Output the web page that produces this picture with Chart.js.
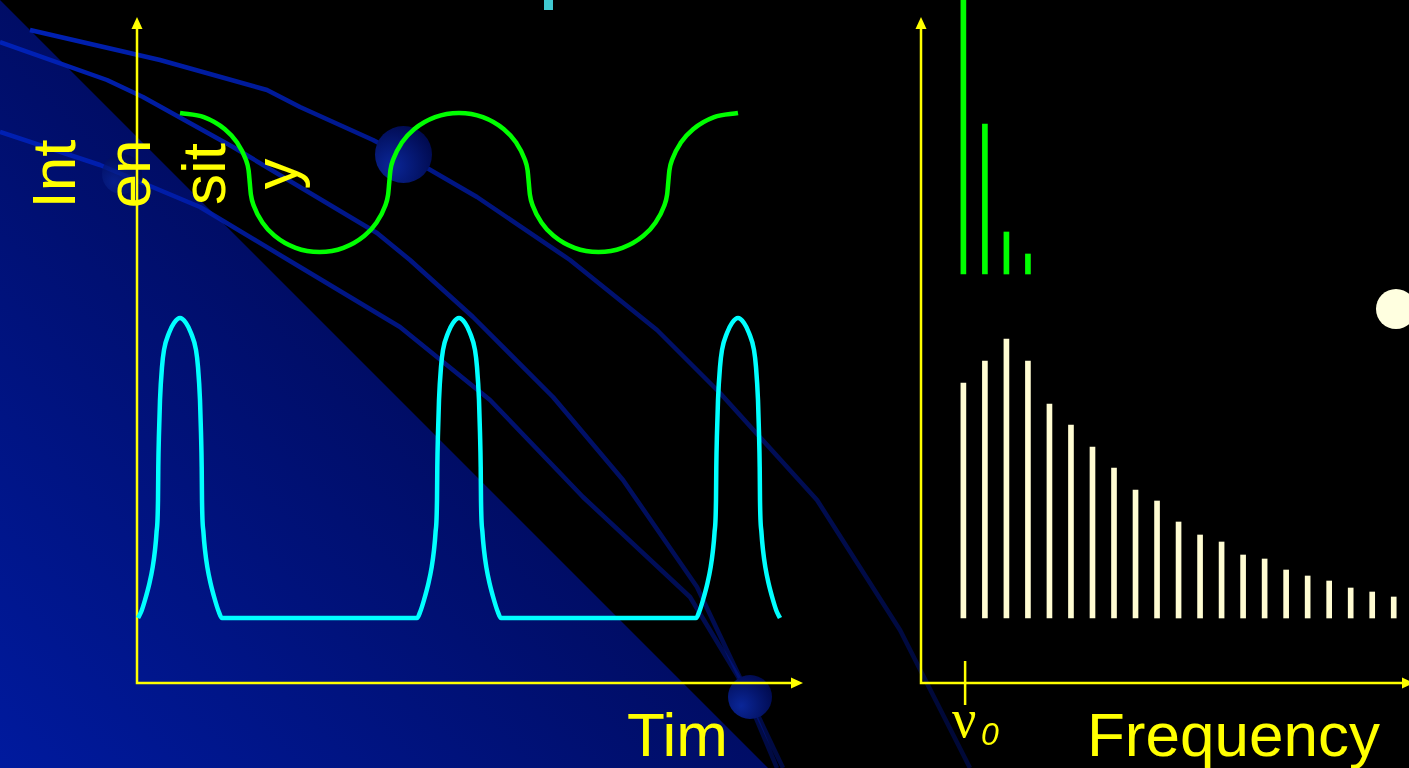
<!DOCTYPE html>
<html>
<head>
<meta charset="utf-8">
<script src="https://cdn.jsdelivr.net/npm/chart.js@4.4.1/dist/chart.umd.min.js"></script>
<style>
  html, body { margin: 0; padding: 0; background: #000; overflow: hidden; }
  #stage { position: relative; width: 1409px; height: 768px; overflow: hidden; background: #000; }
  #stage svg, #stage canvas { position: absolute; left: 0; top: 0; }
  .lbl { position: absolute; color: #ffff00; font-family: "Liberation Sans", Arial, sans-serif;
         font-size: 62px; line-height: 62px; white-space: nowrap; }
  .rot { transform: translate(-50%, -50%) rotate(-90deg); }
</style>
</head>
<body>
<div id="stage">
  <svg width="1409" height="768">
    <defs>
      <linearGradient id="tri" x1="0" y1="768" x2="384" y2="384" gradientUnits="userSpaceOnUse">
        <stop offset="0" stop-color="#001a9e"/>
        <stop offset="1" stop-color="#000d66"/>
      </linearGradient>
      <linearGradient id="fade" x1="0" y1="0" x2="900" y2="768" gradientUnits="userSpaceOnUse">
        <stop offset="0" stop-color="#0022b8" stop-opacity="1"/>
        <stop offset="0.5" stop-color="#001aa8" stop-opacity="0.7"/>
        <stop offset="1" stop-color="#0018a0" stop-opacity="0.35"/>
      </linearGradient>
      <radialGradient id="ball" cx="0.3" cy="0.7" r="0.8">
        <stop offset="0" stop-color="#0a2698"/>
        <stop offset="1" stop-color="#00094c"/>
      </radialGradient>
    </defs>
    <polygon points="0,0 768,768 0,768" fill="url(#tri)"/>
    <g fill="none" stroke="url(#fade)" stroke-width="4.5" stroke-linejoin="round">
      <polyline points="30,30 160,60 267,90 300,107 373,140 427,168 477,197 570,260 657,330 720,393 817,500 900,630 970,768"/>
      <polyline points="0,42 107,80 143,97 233,147 377,233 410,260 473,317 553,397 623,480 697,587 733,663 783,768"/>
      <polyline points="0,132 100,165 200,207 300,267 400,327 490,400 583,497 690,597 740,680 777,768"/>
    </g>
    <circle cx="122" cy="174" r="20" fill="url(#ball)" opacity="0.7"/>
    <circle cx="403.5" cy="154.5" r="28.5" fill="url(#ball)"/>
    <circle cx="750" cy="697" r="22" fill="url(#ball)"/>
    <circle cx="1396" cy="309" r="20" fill="#ffffe0"/>
  </svg>

  <div style="position:absolute;left:544px;top:0;width:9px;height:10px;background:#40c8d0"></div>

  <canvas id="timeChart" width="1409" height="768"></canvas>
  <canvas id="freqChart" width="1409" height="768"></canvas>

  <div class="lbl rot" style="left:53.5px;top:174px">Int</div>
  <div class="lbl rot" style="left:128.5px;top:174px">en</div>
  <div class="lbl rot" style="left:203.5px;top:174px">sit</div>
  <div class="lbl rot" style="left:276px;top:174px">y</div>
  <div class="lbl" style="left:627px;top:704px">Tim</div>
  <div class="lbl" style="left:1087px;top:704px">Frequency</div>
  <div class="lbl" style="left:952px;top:692px;font-family:'Liberation Serif',serif;font-size:54px;line-height:54px">ν</div>
  <div class="lbl" style="left:981px;top:718px;font-style:italic;font-size:32px;line-height:32px">0</div>
</div>

<script>
// ---- time domain (left panel), time in arbitrary units from the origin ----
const pulseTime = [
  1, 4.5, 8, 12.5, 15.7, 18, 19.5, 21, 21.3, 22, 23, 25, 27, 32, 37, 43,
  49, 54, 59, 61, 63, 64, 64.7, 65, 66.5, 68, 70.3, 73.5, 78, 81.5, 85,
  280, 283.5, 287, 291.5, 294.7, 297, 298.5, 300, 300.3, 301, 302, 304, 306, 311, 316, 322,
  328, 333, 338, 340, 342, 343, 343.7, 344, 345.5, 347, 349.3, 352.5, 357, 360.5, 364,
  559, 562.5, 566, 570.5, 573.7, 576, 577.5, 579, 579.3, 580, 581, 583, 585, 590, 595, 601,
  607, 612, 617, 619, 621, 622, 622.7, 623, 624.5, 626, 628.3, 631.5, 636, 639.5, 643
];
const pulseIntensity = [
  65, 72, 83, 100, 116, 133, 150, 183, 216, 250, 283, 316, 333, 350, 360, 365,
  360, 350, 333, 316, 283, 250, 216, 183, 150, 133, 116, 100, 83, 72, 65,
  65, 72, 83, 100, 116, 133, 150, 183, 216, 250, 283, 316, 333, 350, 360, 365,
  360, 350, 333, 316, 283, 250, 216, 183, 150, 133, 116, 100, 83, 72, 65,
  65, 72, 83, 100, 116, 133, 150, 183, 216, 250, 283, 316, 333, 350, 360, 365,
  360, 350, 333, 316, 283, 250, 216, 183, 150, 133, 116, 100, 83, 72, 65
];
const waveTime = [
  43, 66.9, 87.9, 100.1, 108.5, 111.6, 112.75, 113.9, 117, 125.4, 137.6, 158.6, 182.5,
  206.4, 227.4, 239.6, 248, 251.1, 252.25, 253.4, 256.5, 264.9, 277.1, 298.1, 322,
  345.9, 366.9, 379.1, 387.5, 390.6, 391.75, 392.9, 396, 404.4, 416.6, 437.6, 461.5,
  485.4, 506.4, 518.6, 527, 530.1, 531.25, 532.4, 535.5, 543.9, 556.1, 577.1, 601
];
const waveField = [
  570, 565.8, 553.7, 540.4, 524.3, 512.6, 500.5, 488.4, 476.7, 460.6, 447.3, 435.2, 431,
  435.2, 447.3, 460.6, 476.7, 488.4, 500.5, 512.6, 524.3, 540.4, 553.7, 565.8, 570,
  565.8, 553.7, 540.4, 524.3, 512.6, 500.5, 488.4, 476.7, 460.6, 447.3, 435.2, 431,
  435.2, 447.3, 460.6, 476.7, 488.4, 500.5, 512.6, 524.3, 540.4, 553.7, 565.8, 570
];

// ---- frequency domain (right panel), mode index n, nu0 at n = 0 ----
const modeIndex = [0, 1, 2, 3, 4, 5, 6, 7, 8, 9, 10, 11, 12, 13, 14, 15, 16, 17, 18, 19, 20];
const combTop = [300, 322, 344, 322, 279, 258, 236, 215, 193, 182, 161, 148, 141, 128, 124, 113, 107, 102, 95, 91, 86];
const combBase = 65;
const cwIndex = [0, 1, 2, 3];
const cwTop = [720, 559, 451, 429];
const cwBase = 409;
const nu0 = 0.08;

const yellow = '#ffff00';

function axesPlugin(tipExtra, tickAt) {
  return {
    id: 'arrowAxes',
    beforeDatasetsDraw(chart) {
      const { ctx, chartArea: a } = chart;
      const tipX = a.right + tipExtra;
      ctx.save();
      ctx.strokeStyle = yellow;
      ctx.fillStyle = yellow;
      ctx.lineWidth = 2.5;
      ctx.beginPath();
      ctx.moveTo(a.left, a.top + 10);
      ctx.lineTo(a.left, a.bottom);
      ctx.lineTo(tipX - 10, a.bottom);
      ctx.stroke();
      ctx.beginPath();
      ctx.moveTo(a.left, a.top);
      ctx.lineTo(a.left - 5.5, a.top + 12);
      ctx.lineTo(a.left + 5.5, a.top + 12);
      ctx.closePath();
      ctx.fill();
      ctx.beginPath();
      ctx.moveTo(tipX, a.bottom);
      ctx.lineTo(tipX - 12, a.bottom - 5.5);
      ctx.lineTo(tipX - 12, a.bottom + 5.5);
      ctx.closePath();
      ctx.fill();
      if (tickAt !== undefined) {
        const x = chart.scales.x.getPixelForValue(tickAt);
        ctx.beginPath();
        ctx.moveTo(x, a.bottom - 22);
        ctx.lineTo(x, a.bottom + 22);
        ctx.stroke();
      }
      ctx.restore();
    }
  };
}

const common = {
  responsive: false,
  animation: false,
  events: [],
  plugins: { legend: { display: false }, tooltip: { enabled: false } }
};

new Chart(document.getElementById('timeChart'), {
  type: 'scatter',
  data: {
    datasets: [
      {
        data: pulseTime.map((t, i) => ({ x: t, y: pulseIntensity[i] })),
        showLine: true,
        borderColor: '#00ffff',
        borderWidth: 4.5,
        borderJoinStyle: 'round',
        pointRadius: 0,
        cubicInterpolationMode: 'monotone',
        clip: false
      },
      {
        data: waveTime.map((t, i) => ({ x: t, y: waveField[i] })),
        showLine: true,
        borderColor: '#00ff00',
        borderWidth: 4.5,
        borderJoinStyle: 'round',
        pointRadius: 0,
        cubicInterpolationMode: 'monotone',
        clip: false
      }
    ]
  },
  options: {
    ...common,
    layout: { padding: { left: 137, top: 17, right: 606, bottom: 85 } },
    scales: {
      x: { type: 'linear', display: false, min: 0, max: 666 },
      y: { type: 'linear', display: false, min: 0, max: 666 }
    }
  },
  plugins: [axesPlugin(0)]
});

new Chart(document.getElementById('freqChart'), {
  type: 'bar',
  data: {
    datasets: [
      {
        data: cwIndex.map((n, i) => ({ x: n, y: [cwBase, cwTop[i]] })),
        backgroundColor: '#00ff00',
        barThickness: 5,
        grouped: false,
        clip: false
      },
      {
        data: modeIndex.map((n, i) => ({ x: n, y: [combBase, combTop[i]] })),
        backgroundColor: '#fffcd2',
        barThickness: 5,
        grouped: false,
        clip: false
      }
    ]
  },
  options: {
    ...common,
    layout: { padding: { left: 921, top: 17, right: 0, bottom: 85 } },
    scales: {
      x: { type: 'linear', display: false, offset: false, min: -1.97, max: 20.71 },
      y: { type: 'linear', display: false, min: 0, max: 666 }
    }
  },
  plugins: [axesPlugin(5, nu0)]
});
</script>
</body>
</html>
